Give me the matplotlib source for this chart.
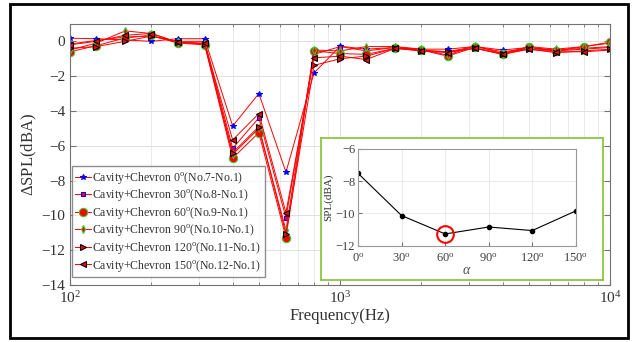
"""
Gráfico de ΔSPL por banda de 1/3 de oitava para as configurações
Cavity+Chevron (0° a 150°), com inset do valor em 630 Hz vs. ângulo.
"""

import matplotlib
matplotlib.use("Agg")
import matplotlib.pyplot as plt
from matplotlib.patches import Rectangle
from matplotlib.ticker import LogLocator, NullFormatter

# ---------------------------------------------------------------------------
# Dados
# ---------------------------------------------------------------------------

freq = [100, 125, 160, 200, 250, 315, 400, 500, 630, 800, 1000, 1250,
        1600, 2000, 2500, 3150, 4000, 5000, 6300, 8000, 10000]

spl_0 = [0.18, 0.15, 0.08, 0.0, 0.15, 0.15, -4.87, -3.0, -7.52, -1.82, -0.28,
         -0.45, -0.35, -0.45, -0.45, -0.3, -0.5, -0.35, -0.5, -0.4, -0.3]
spl_30 = [-0.15, 0.05, 0.25, 0.3, 0.0, 0.0, -6.15, -4.4, -10.14, -0.75, -0.3,
          -0.55, -0.35, -0.5, -0.6, -0.3, -0.6, -0.4, -0.55, -0.45, -0.35]
spl_60 = [-0.6, -0.25, 0.2, 0.35, -0.1, -0.2, -6.72, -5.25, -11.28, -0.55, -0.7,
          -0.75, -0.4, -0.5, -0.85, -0.35, -0.75, -0.35, -0.55, -0.3, -0.05]
spl_90 = [-0.5, -0.1, 0.6, 0.45, -0.05, -0.15, -6.5, -5.0, -10.85, -0.5, -0.55,
          -0.3, -0.3, -0.45, -0.8, -0.25, -0.7, -0.3, -0.45, -0.3, -0.1]
spl_120 = [-0.4, -0.3, 0.0, 0.3, -0.05, -0.15, -6.4, -4.9, -11.07, -1.38, -1.0,
           -0.85, -0.4, -0.55, -0.6, -0.4, -0.7, -0.45, -0.65, -0.55, -0.45]
spl_150 = [-0.2, 0.0, 0.35, 0.45, -0.05, -0.1, -5.67, -4.15, -9.85, -0.95, -0.85,
           -1.05, -0.4, -0.55, -0.65, -0.4, -0.75, -0.45, -0.6, -0.6, -0.5]

labels = [
    r"Cavity+Chevron 0$^{\rm o}$(No.7-No.1)",
    r"Cavity+Chevron 30$^{\rm o}$(No.8-No.1)",
    r"Cavity+Chevron 60$^{\rm o}$(No.9-No.1)",
    r"Cavity+Chevron 90$^{\rm o}$(No.10-No.1)",
    r"Cavity+Chevron 120$^{\rm o}$(No.11-No.1)",
    r"Cavity+Chevron 150$^{\rm o}$(No.12-No.1)",
]

angles = [0, 30, 60, 90, 120, 150]
angle_labels = [r"0$^{\rm o}$", r"30$^{\rm o}$", r"60$^{\rm o}$",
                r"90$^{\rm o}$", r"120$^{\rm o}$", r"150$^{\rm o}$"]

# ---------------------------------------------------------------------------
# Estilo
# ---------------------------------------------------------------------------

plt.rcParams["font.family"] = ["Liberation Serif", "DejaVu Serif"]
plt.rcParams["mathtext.fontset"] = "custom"
plt.rcParams["mathtext.rm"] = "Liberation Serif"
plt.rcParams["mathtext.it"] = "Liberation Serif:italic"
plt.rcParams["xtick.direction"] = "in"
plt.rcParams["ytick.direction"] = "in"

styles = [
    dict(marker="*", mfc="blue", mec="blue", ms=4),
    dict(marker="s", mfc="red", mec="blue", ms=3.5),
    dict(marker="o", mfc="red", mec="#33cc33", ms=6),
    dict(marker="d", mfc="red", mec="#33cc33", ms=4),
    dict(marker=">", mfc="red", mec="black", ms=4.5),
    dict(marker="<", mfc="red", mec="black", ms=4.5),
]

AX_GRAY = "0.45"

fig = plt.figure(figsize=(6.37, 3.42), dpi=100)

# moldura externa
fig.patches.append(Rectangle((0.016, 0.012), 0.970, 0.976, transform=fig.transFigure,
                             fill=False, edgecolor="black", linewidth=2))

ax = fig.add_axes([0.110, 0.167, 0.848, 0.763])
series = [spl_0, spl_30, spl_60, spl_90, spl_120, spl_150]
for s, lab, st in zip(series, labels, styles):
    ax.plot(freq, s, color="red", linewidth=0.7, mew=0.8, label=lab, **st)

ax.set_xscale("log")
ax.set_xlim(100, 10000)
ax.set_ylim(-14, 1)
ax.set_yticks(range(-14, 1, 2))
ax.xaxis.set_minor_locator(LogLocator(base=10, subs=range(2, 10)))
ax.xaxis.set_minor_formatter(NullFormatter())
ax.grid(True, which="major", color="0.88", linewidth=0.7)
ax.grid(True, which="minor", axis="x", color="0.9", linewidth=0.6)
ax.tick_params(which="both", top=True, right=True, colors=AX_GRAY,
               labelcolor="0.2", labelsize=11)
ax.tick_params(which="major", length=4)
ax.tick_params(which="minor", length=2)
for sp in ax.spines.values():
    sp.set_color(AX_GRAY)
ax.set_xlabel("Frequency(Hz)", fontsize=12, color="0.2", labelpad=2)
ax.set_ylabel(r"$\Delta$SPL(dBA)", fontsize=12, color="0.2", labelpad=2)

leg = ax.legend(loc="lower left", bbox_to_anchor=(0.003, 0.03), fontsize=8.5,
                frameon=True, fancybox=False, edgecolor=AX_GRAY,
                borderpad=0.3, labelspacing=0.13, handlelength=1.3,
                handletextpad=0.15, borderaxespad=0.0)
leg.get_frame().set_linewidth(1.0)
for t in leg.get_texts():
    t.set_color("0.2")

# caixa verde do inset
box = fig.add_axes([0.504, 0.181, 0.443, 0.416])
box.set_facecolor("white")
box.set_xticks([])
box.set_yticks([])
for sp in box.spines.values():
    sp.set_color("#8cc63f")
    sp.set_linewidth(1.3)

# inset: valor em 630 Hz vs. ângulo
idx630 = freq.index(630)
inset_vals = [s[idx630] for s in series]

ins = fig.add_axes([0.562, 0.282, 0.342, 0.283])
ins.plot(angles, inset_vals, color="black", linewidth=0.8, marker="o", ms=3)
ins.plot(angles[2], inset_vals[2], marker="o", ms=12, mfc="none",
         mec="red", mew=1.5, linestyle="none")
ins.set_xlim(0, 150)
ins.set_ylim(-12, -6)
ins.set_xticks(angles)
ins.set_xticklabels(angle_labels)
ins.set_yticks([-12, -10, -8, -6])
ins.grid(True, color="0.9", linewidth=0.6)
ins.tick_params(colors=AX_GRAY, labelcolor="0.25", labelsize=9, length=3)
ins.tick_params(axis="x", pad=5)
ins.tick_params(axis="y", pad=2)
for sp in ins.spines.values():
    sp.set_color("0.6")
ins.set_xlabel(r"$\alpha$", fontsize=10, color="0.3", labelpad=-1)
ins.set_ylabel("SPL(dBA)", fontsize=8, color="0.2")
ins.yaxis.set_label_coords(-0.115, 0.5)

fig.savefig("out.png", dpi=100)
